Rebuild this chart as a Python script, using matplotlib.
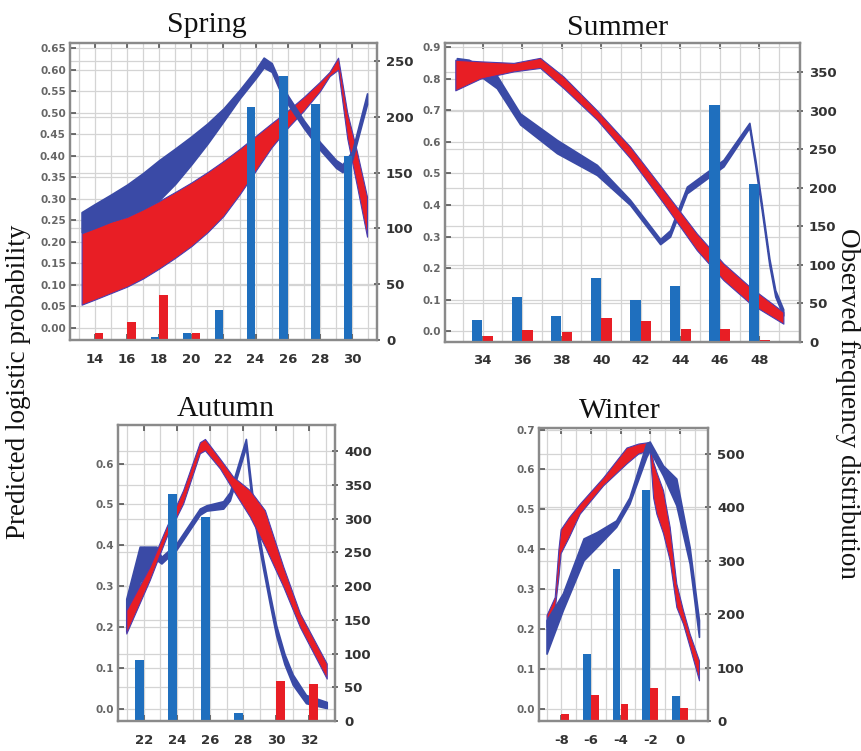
import numpy as np
import matplotlib
matplotlib.use("Agg")
import matplotlib.pyplot as plt
from matplotlib.ticker import FormatStrFormatter

plt.rcParams['axes.unicode_minus'] = False

# ---- observed frequencies (right axis) ----
spring_x = [14, 16, 18, 20, 22, 24, 26, 28, 30]
spring_blue_bar = [0, 0, 3, 6.5, 27, 209, 236, 211, 165]
spring_red_bar = [6, 16, 40, 6, 0, 0, 0, 0, 0]

summer_x = [34, 36, 38, 40, 42, 44, 46, 48]
summer_blue_bar = [29, 59, 34, 83, 54, 73, 308, 205]
summer_red_bar = [8, 16, 13, 31, 27, 17, 17, 3]

autumn_x = [22, 24, 26, 28, 30, 32]
autumn_blue_bar = [91, 337, 302, 12, 0, 0]
autumn_red_bar = [0, 0, 0, 0, 60, 55]

winter_x = [-8, -6, -4, -2, 0]
winter_blue_bar = [0, 125, 284, 432, 46]
winter_red_bar = [14, 48, 31, 61, 24]

# ---- predicted probability bands (left axis): x, lower, upper ----
spring_blue_t = [13.17, 14, 15, 16, 17, 18, 19, 20, 21, 22, 23, 24, 24.5, 25, 25.5, 26, 27, 28, 29, 29.4, 30, 30.93]
spring_blue_hi = [0.269, 0.288, 0.31, 0.333, 0.36, 0.39, 0.417, 0.445, 0.475, 0.51, 0.553, 0.60, 0.628, 0.615, 0.573, 0.54, 0.482, 0.432, 0.39, 0.38, 0.41, 0.545]
spring_blue_lo = [0.222, 0.233, 0.248, 0.26, 0.277, 0.297, 0.335, 0.38, 0.428, 0.48, 0.533, 0.58, 0.605, 0.595, 0.552, 0.52, 0.464, 0.414, 0.372, 0.362, 0.39, 0.52]
spring_red_t = [13.17, 14, 15, 16, 17, 18, 19, 20, 21, 22, 23, 24, 25, 26, 27, 28, 28.6, 29.13, 29.7, 30.3, 30.93]
spring_red_hi = [0.22, 0.232, 0.247, 0.258, 0.276, 0.295, 0.316, 0.338, 0.362, 0.388, 0.416, 0.446, 0.476, 0.505, 0.537, 0.572, 0.595, 0.628, 0.50, 0.41, 0.305]
spring_red_lo = [0.054, 0.066, 0.081, 0.096, 0.115, 0.138, 0.163, 0.19, 0.222, 0.26, 0.31, 0.365, 0.42, 0.465, 0.505, 0.55, 0.585, 0.60, 0.44, 0.33, 0.212]

summer_blue_t = [32.7, 33.3, 34.72, 35.9, 37.76, 39.78, 41.46, 42.98, 43.48, 44.33, 46.18, 47.49, 47.8, 48.1, 48.5, 48.8, 49.2]
summer_blue_hi = [0.865, 0.86, 0.81, 0.69, 0.606, 0.527, 0.416, 0.292, 0.32, 0.458, 0.543, 0.66, 0.54, 0.41, 0.23, 0.13, 0.07]
summer_blue_lo = [0.845, 0.835, 0.77, 0.655, 0.564, 0.495, 0.40, 0.276, 0.30, 0.437, 0.522, 0.645, 0.52, 0.39, 0.21, 0.11, 0.05]
summer_red_t = [32.62, 33.88, 35.57, 36.91, 38.09, 39.78, 41.46, 43.15, 44.83, 46.18, 47.53, 49.21]
summer_red_hi = [0.86, 0.855, 0.85, 0.866, 0.807, 0.70, 0.585, 0.448, 0.31, 0.215, 0.14, 0.061]
summer_red_lo = [0.763, 0.80, 0.823, 0.834, 0.77, 0.67, 0.548, 0.405, 0.257, 0.162, 0.088, 0.024]

autumn_blue_t = [20.95, 21.76, 22.77, 23.07, 23.98, 25.39, 25.79, 26.8, 27.2, 28.17, 28.6, 29.2, 29.6, 30.0, 30.5, 31.0, 31.8, 33.05]
autumn_blue_hi = [0.27, 0.397, 0.397, 0.372, 0.405, 0.49, 0.498, 0.508, 0.53, 0.66, 0.51, 0.37, 0.285, 0.205, 0.135, 0.085, 0.035, 0.018]
autumn_blue_lo = [0.19, 0.31, 0.365, 0.356, 0.39, 0.475, 0.485, 0.49, 0.51, 0.64, 0.48, 0.345, 0.26, 0.18, 0.11, 0.06, 0.015, 0.003]
autumn_red_t = [20.95, 22.36, 23.37, 24.38, 25.39, 25.7, 26.6, 27.4, 28.41, 29.32, 30.43, 31.44, 33.05]
autumn_red_hi = [0.242, 0.348, 0.445, 0.535, 0.652, 0.66, 0.612, 0.568, 0.535, 0.486, 0.348, 0.234, 0.112]
autumn_red_lo = [0.185, 0.315, 0.42, 0.502, 0.625, 0.632, 0.588, 0.535, 0.47, 0.397, 0.299, 0.20, 0.075]

winter_blue_t = [-9.0, -7.9, -6.5, -5.6, -4.3, -3.4, -2.26, -2.03, -1.13, -0.23, 0.67, 1.3]
winter_blue_hi = [0.222, 0.289, 0.427, 0.443, 0.472, 0.53, 0.665, 0.67, 0.61, 0.577, 0.405, 0.222]
winter_blue_lo = [0.138, 0.247, 0.372, 0.406, 0.456, 0.514, 0.631, 0.648, 0.585, 0.51, 0.364, 0.18]
winter_red_t = [-9.0, -8.45, -8.2, -8.05, -7.5, -6.76, -5.18, -3.6, -2.8, -2.03, -1.8, -1.58, -1.13, -0.68, -0.23, 0.22, 0.67, 1.3]
winter_red_hi = [0.235, 0.28, 0.40, 0.45, 0.48, 0.514, 0.58, 0.655, 0.665, 0.669, 0.62, 0.594, 0.548, 0.456, 0.314, 0.247, 0.188, 0.121]
winter_red_lo = [0.205, 0.25, 0.33, 0.39, 0.43, 0.489, 0.56, 0.615, 0.64, 0.648, 0.53, 0.489, 0.44, 0.372, 0.255, 0.213, 0.155, 0.071]

BAND_BLUE = '#3a4aa6'
BAND_RED = '#e81e25'
BAR_BLUE = '#1f6fbe'
BAR_RED = '#e81e25'
GRID = '#d4d4d4'
SERIF = 'Liberation Serif'

fig = plt.figure(figsize=(8.62, 7.51), dpi=100)


def panel(rect, title, title_xy, xlim, xticks, ylim_l, yticks_l, fmt_l, ylim_r, yticks_r,
          bx, blue_bar, red_bar, blue_band, red_band, blue_on_top):
    ax = fig.add_axes(rect)      # bands, left scale
    ax2 = ax.twinx()             # bars, right scale (drawn over the bands)

    ax.set_xlim(*xlim)
    ax.set_ylim(*ylim_l)
    ax2.set_ylim(*ylim_r)

    # grid lines from both scales, under everything
    ax.set_axisbelow(True)
    ax.set_yticks(yticks_l)
    ax.grid(axis='y', color=GRID, lw=0.9)
    ax2.set_yticks(yticks_r)
    ax.hlines(yticks_r, 0, 1, transform=ax2.get_yaxis_transform(), color=GRID, lw=0.9, zorder=0.5)
    vx = np.arange(np.ceil(xlim[0]), xlim[1], 1.0)
    ax.vlines(vx, 0, 1, transform=ax.get_xaxis_transform(), color=GRID, lw=0.9, zorder=0.5)

    t, lo, hi = red_band
    ax.fill_between(t, lo, hi, facecolor=BAND_RED, edgecolor='#4a3db0', lw=0.8,
                    zorder=3 if blue_on_top else 5)
    t, lo, hi = blue_band
    ax.fill_between(t, lo, hi, facecolor=BAND_BLUE, edgecolor=BAND_BLUE, lw=1.2, zorder=4)

    bx = np.asarray(bx, dtype=float)
    ax2.bar(bx - 0.27, blue_bar, width=0.52, color=BAR_BLUE, zorder=2)
    ax2.bar(bx + 0.27, red_bar, width=0.52, color=BAR_RED, zorder=2)

    ax.set_xticks(xticks)
    ax.yaxis.set_major_formatter(FormatStrFormatter(fmt_l))
    ax.tick_params(axis='y', direction='in', length=4, width=1.2, color='#555',
                   labelsize=7.5, labelcolor='#666', pad=3)
    ax.tick_params(axis='x', direction='in', length=4, width=1.2, color='#555', top=True,
                   labelsize=9.5, labelcolor='#333', pad=9)
    ax2.tick_params(axis='y', direction='inout', length=5, width=1.2, color='#555',
                    labelsize=9.5, labelcolor='#333', pad=4)
    for lab in ax.get_xticklabels() + ax.get_yticklabels() + ax2.get_yticklabels():
        lab.set_fontweight('bold')
    for a in (ax, ax2):
        for s in a.spines.values():
            s.set_color('#8a8a8a')
            s.set_linewidth(1.6)

    fig.text(title_xy[0], title_xy[1], title, family=SERIF, fontsize=21.5,
             ha='center', va='baseline', color='#111')
    return ax, ax2


W, H = 862.0, 751.0


def rect(x0, y0, x1, y1):
    return [x0 / W, 1 - y1 / H, (x1 - x0) / W, (y1 - y0) / H]


panel(rect(70, 43, 377, 340), 'Spring', (207 / W, 1 - 32 / H),
      (12.45, 31.55), spring_x, (-0.028, 0.662), np.arange(0, 0.66, 0.05), '%.2f',
      (0, 266), np.arange(0, 251, 50),
      spring_x, spring_blue_bar, spring_red_bar,
      (spring_blue_t, spring_blue_lo, spring_blue_hi),
      (spring_red_t, spring_red_lo, spring_red_hi), True)

panel(rect(445, 43, 800, 342), 'Summer', (618 / W, 1 - 35 / H),
      (32.1, 50.05), summer_x, (-0.034, 0.913), np.arange(0, 0.91, 0.1), '%.1f',
      (0, 388), np.arange(0, 351, 50),
      summer_x, summer_blue_bar, summer_red_bar,
      (summer_blue_t, summer_blue_lo, summer_blue_hi),
      (summer_red_t, summer_red_lo, summer_red_hi), False)

panel(rect(118, 425, 335, 721), 'Autumn', (226 / W, 1 - 416 / H),
      (20.45, 33.55), autumn_x, (-0.0285, 0.694), np.arange(0, 0.61, 0.1), '%.1f',
      (0, 439), np.arange(0, 401, 50),
      autumn_x, autumn_blue_bar, autumn_red_bar,
      (autumn_blue_t, autumn_blue_lo, autumn_blue_hi),
      (autumn_red_t, autumn_red_lo, autumn_red_hi), False)

panel(rect(539, 428, 708, 721), 'Winter', (620 / W, 1 - 418 / H),
      (-9.51, 1.91), winter_x, (-0.031, 0.704), np.arange(0, 0.71, 0.1), '%.1f',
      (0, 548), np.arange(0, 501, 100),
      winter_x, winter_blue_bar, winter_red_bar,
      (winter_blue_t, winter_blue_lo, winter_blue_hi),
      (winter_red_t, winter_red_lo, winter_red_hi), True)

fig.text(19 / W, 1 - 382 / H, 'Predicted logistic probability', rotation=90,
         family=SERIF, fontsize=19.5, ha='center', va='center', color='#111')
fig.text(848 / W, 1 - 403 / H, 'Observed frequency distribution', rotation=-90,
         family=SERIF, fontsize=19.5, ha='center', va='center', color='#111')

fig.savefig('out.png', dpi=100)
